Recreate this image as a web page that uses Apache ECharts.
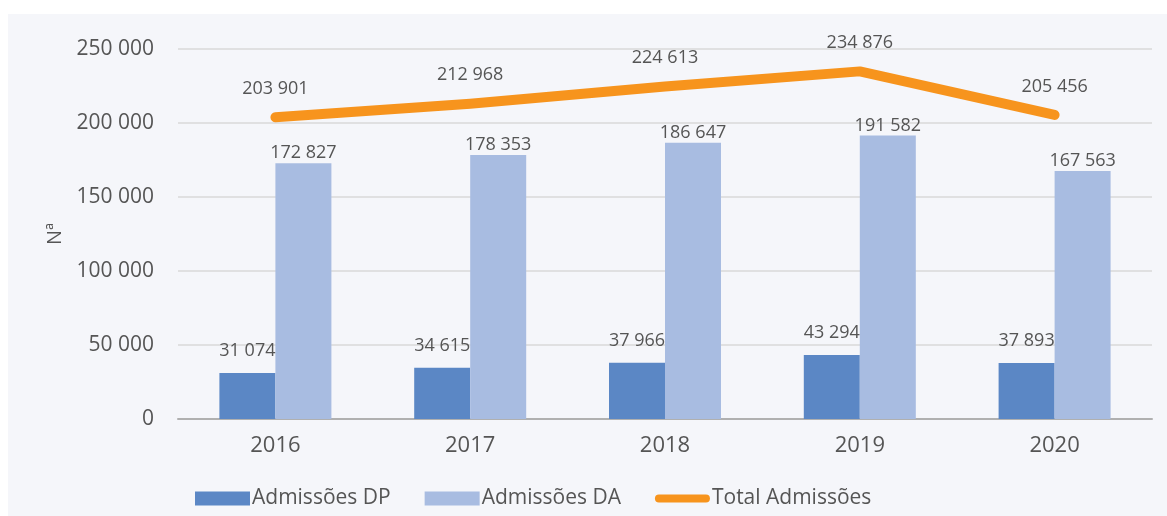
<!DOCTYPE html>
<html>
<head>
<meta charset="utf-8">
<script src="https://cdn.jsdelivr.net/npm/echarts@6/dist/echarts.min.js"></script>
<style>
  html, body { margin: 0; padding: 0; background: #ffffff; }
  .panel {
    position: absolute;
    left: 8px;
    top: 14px;
    width: 1159px;
    height: 502px;
    background: #f5f6fa;
  }
  #chart { width: 100%; height: 100%; }
</style>
</head>
<body>
<div class="panel"><div id="chart"></div></div>
<script>
const years = ['2016', '2017', '2018', '2019', '2020']
const admissoesDP = [31074, 34615, 37966, 43294, 37893]
const admissoesDA = [172827, 178353, 186647, 191582, 167563]
const totalAdmissoes = [203901, 212968, 224613, 234876, 205456]

const fontFamily = '"Open Sans", "Noto Sans", sans-serif'
const textColor = '#555555'

// 203901 -> "203 901"
const fmt = v => String(v).replace(/\B(?=(\d{3})+(?!\d))/g, ' ')

const chart = echarts.init(document.getElementById('chart'))

const option = {
  animation: false,
  textStyle: { fontFamily: fontFamily },
  grid: {
    left: 170,
    right: 15,
    top: 35,
    bottom: 97
  },
  legend: {
    bottom: 2,
    left: 182,
    itemWidth: 55,
    itemHeight: 14,
    itemGap: 34,
    textStyle: { color: textColor, fontSize: 21, fontFamily: fontFamily, padding: [0, 0, 0, -3] },
    data: [
      { name: 'Admissões DP', icon: 'rect' },
      { name: 'Admissões DA', icon: 'rect' },
      {
        name: 'Total Admissões',
        icon: 'path://M4,0 H51 A4,4 0 0 1 51,8 H4 A4,4 0 0 1 4,0 Z',
        itemStyle: { color: '#f7941d' }
      }
    ]
  },
  xAxis: {
    type: 'category',
    data: years,
    axisTick: { show: false },
    axisLine: { lineStyle: { color: '#b0b0b0', width: 2 } },
    axisLabel: { color: textColor, fontSize: 22, margin: 16 }
  },
  yAxis: {
    type: 'value',
    min: 0,
    max: 250000,
    interval: 50000,
    name: 'Nª',
    nameLocation: 'middle',
    nameGap: 104,
    nameTextStyle: { color: textColor, fontSize: 20 },
    axisLine: { show: false },
    axisTick: { show: false },
    splitLine: { lineStyle: { color: '#d9d9d9', width: 1.5 } },
    axisLabel: { color: textColor, fontSize: 21, margin: 24, formatter: v => fmt(v) }
  },
  series: [
    {
      name: 'Admissões DP',
      type: 'bar',
      barWidth: 56,
      barGap: '0%',
      itemStyle: { color: '#5b87c5' },
      label: {
        show: true,
        position: 'top',
        distance: 13,
        color: textColor,
        fontSize: 18,
        formatter: p => fmt(p.value)
      },
      data: admissoesDP
    },
    {
      name: 'Admissões DA',
      type: 'bar',
      barWidth: 56,
      itemStyle: { color: '#a8bce1' },
      label: {
        show: true,
        position: 'top',
        distance: 1,
        color: textColor,
        fontSize: 18,
        formatter: p => fmt(p.value)
      },
      data: admissoesDA
    },
    {
      name: 'Total Admissões',
      type: 'line',
      symbol: 'circle',
      symbolSize: 1,
      itemStyle: { color: '#f7941d' },
      lineStyle: { color: '#f7941d', width: 10, cap: 'round', join: 'round' },
      label: {
        show: true,
        position: 'top',
        distance: 19,
        color: textColor,
        fontSize: 18,
        formatter: p => fmt(p.value)
      },
      data: totalAdmissoes
    }
  ]
}

chart.setOption(option)
window.addEventListener('resize', () => chart.resize())
</script>
</body>
</html>
